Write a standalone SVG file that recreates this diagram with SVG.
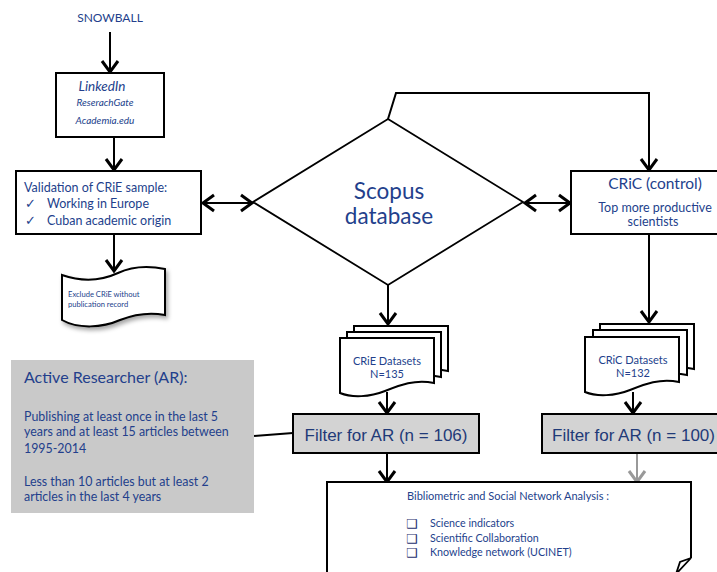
<svg xmlns="http://www.w3.org/2000/svg" width="717" height="572" viewBox="0 0 717 572">
<style>
.t{font-family:Lato,"Open Sans","DejaVu Sans",sans-serif;fill:#233f8c}
.a{font-family:"Liberation Sans",Arial,sans-serif;fill:#1f3a78}
.cb{font-family:"DejaVu Sans",sans-serif;fill:#1d2f6e;font-size:12.5px}
.box{fill:#fff;stroke:#000;stroke-width:2}
.gray{fill:#d3d3d3;stroke:#000;stroke-width:2}
.ln{fill:none;stroke:#000;stroke-width:2}
.arr{fill:none;stroke:#000;stroke-width:2;marker-end:url(#ah)}
.dbl{fill:none;stroke:#000;stroke-width:2;marker-end:url(#ah);marker-start:url(#ah)}
</style>
<defs>
<marker id="ah" markerUnits="userSpaceOnUse" markerWidth="16" markerHeight="18" refX="12" refY="8" orient="auto-start-reverse" overflow="visible">
<path d="M1,0 L12,8 L1,16" fill="none" stroke="#000" stroke-width="3"/>
</marker>
<marker id="ahg" markerUnits="userSpaceOnUse" markerWidth="16" markerHeight="18" refX="12" refY="8" orient="auto" overflow="visible">
<path d="M1,0 L12,8 L1,16" fill="none" stroke="#999" stroke-width="3"/>
</marker>
<path id="doc" d="M0,0 H94 V45 C75,41 60,47 45,53 C30,59 12,60 0,55 Z"/>
<filter id="sh" x="-20%" y="-20%" width="150%" height="150%">
<feDropShadow dx="2" dy="3" stdDeviation="2" flood-color="#000" flood-opacity="0.35"/>
</filter>
</defs>

<g id="connectors">
<path class="arr" d="M110,32 V72"/>
<path class="arr" d="M114,138 V170"/>
<path class="arr" d="M114,234 V271"/>
<path class="dbl" d="M203,203 H252"/>
<path class="dbl" d="M525,203 H570"/>
<path class="arr" d="M388,119 L396,93 H649 V170"/>
<path class="arr" d="M388,285 V324"/>
<path class="arr" d="M649,234 V322"/>
<path class="arr" d="M387,392 V413"/>
<path class="arr" d="M633,392 V413"/>
<path class="arr" d="M387,453 V482"/>
<path d="M637,453 V482" fill="none" stroke="#999" stroke-width="2" marker-end="url(#ahg)"/>
<path class="ln" d="M254,436 L293,433"/>
</g>

<g id="snowball">
<text class="t" x="110" y="22" font-size="12" text-anchor="middle">SNOWBALL</text>
</g>

<g id="linkedin">
<rect class="box" x="56" y="73" width="108" height="64"/>
<text class="t" x="102" y="91" font-size="13.5" font-style="italic" text-anchor="middle">LinkedIn</text>
<text class="t" x="105" y="106" font-size="10" font-style="italic" text-anchor="middle">ReserachGate</text>
<text class="t" x="105" y="124" font-size="10" font-style="italic" text-anchor="middle">Academia.edu</text>
</g>

<g id="validation">
<rect class="box" x="16" y="171" width="185" height="63"/>
<text class="t" x="24" y="192" font-size="12.5">Validation of CRiE sample:</text>
<text class="t" x="25" y="208" font-size="13" font-family="DejaVu Sans,sans-serif">✓</text>
<text class="t" x="47" y="208" font-size="12.5">Working in Europe</text>
<text class="t" x="25" y="225" font-size="13" font-family="DejaVu Sans,sans-serif">✓</text>
<text class="t" x="47" y="225" font-size="12.5">Cuban academic origin</text>
</g>

<g id="exclude">
<path d="M62,275 C85,283 105,279 118,273 C133,266 150,266 165,269 V315 C150,312 135,314 120,320 C102,328 78,329 62,320 Z" fill="#fff" stroke="#000" stroke-width="2" filter="url(#sh)"/>
<text class="t" x="68" y="297" font-size="7.6">Exclude CRiE without</text>
<text class="t" x="68" y="307" font-size="7.6">publication record</text>
</g>

<g id="scopus">
<path d="M388,119 L523,202 L388,285 L253,202 Z" fill="#fff" stroke="#000" stroke-width="1.8"/>
<text class="t" x="389" y="199" font-size="22.5" text-anchor="middle">Scopus</text>
<text class="t" x="389" y="224" font-size="22.5" text-anchor="middle">database</text>
</g>

<g id="cric">
<rect class="box" x="571" y="171" width="150" height="63"/>
<text class="t" x="655" y="189" font-size="15.5" text-anchor="middle">CRiC (control)</text>
<text class="t" x="655" y="212" font-size="12.5" text-anchor="middle">Top more productive</text>
<text class="t" x="653" y="226" font-size="12.5" text-anchor="middle">scientists</text>
</g>

<g id="crie-datasets">
<use href="#doc" transform="translate(354,326)" fill="#fff" stroke="#000" stroke-width="2"/>
<use href="#doc" transform="translate(347,332)" fill="#fff" stroke="#000" stroke-width="2"/>
<use href="#doc" transform="translate(340,338)" fill="#fff" stroke="#000" stroke-width="2"/>
<text class="t" x="387" y="365" font-size="11" text-anchor="middle">CRiE Datasets</text>
<text class="t" x="387" y="378" font-size="11" text-anchor="middle">N=135</text>
</g>

<g id="cric-datasets">
<use href="#doc" transform="translate(600,324)" fill="#fff" stroke="#000" stroke-width="2"/>
<use href="#doc" transform="translate(593,330)" fill="#fff" stroke="#000" stroke-width="2"/>
<use href="#doc" transform="translate(585,337)" fill="#fff" stroke="#000" stroke-width="2"/>
<text class="t" x="633" y="364" font-size="11" text-anchor="middle">CRiC Datasets</text>
<text class="t" x="633" y="377" font-size="11" text-anchor="middle">N=132</text>
</g>

<g id="filter-crie">
<rect class="gray" x="293" y="414" width="186" height="39"/>
<text class="a" x="386" y="441" font-size="17" text-anchor="middle">Filter for AR (n = 106)</text>
</g>

<g id="filter-cric">
<rect class="gray" x="542" y="414" width="180" height="39"/>
<text class="a" x="552" y="441" font-size="17">Filter for AR (n = 100)</text>
</g>

<g id="active-researcher">
<rect x="11" y="360" width="243" height="153" fill="#c9c9c9"/>
<text class="t" x="24" y="383" font-size="16">Active Researcher (AR):</text>
<text class="t" x="24" y="421" font-size="12.4">Publishing at least once in the last 5</text>
<text class="t" x="24" y="436" font-size="12.4">years and at least 15 articles between</text>
<text class="t" x="24" y="453" font-size="12.4">1995-2014</text>
<text class="t" x="24" y="486" font-size="12.4">Less than 10 articles but at least 2</text>
<text class="t" x="24" y="501" font-size="12.4">articles in the last 4 years</text>
</g>

<g id="analysis">
<path d="M327,580 V482 H691 V558" fill="#fff" stroke="#000" stroke-width="2"/>
<path d="M691,558 L680,562 L676,574 Z" fill="#fff" stroke="#000" stroke-width="1.8"/>
<text class="t" x="407" y="500" font-size="11">Bibliometric and Social Network Analysis :</text>
<text class="cb" x="406" y="528">❑</text>
<text class="t" x="430" y="527" font-size="10.7">Science indicators</text>
<text class="cb" x="406" y="543">❑</text>
<text class="t" x="430" y="542" font-size="10.7">Scientific Collaboration</text>
<text class="cb" x="406" y="557">❑</text>
<text class="t" x="430" y="556" font-size="10.7">Knowledge network (UCINET)</text>
</g>
</svg>
